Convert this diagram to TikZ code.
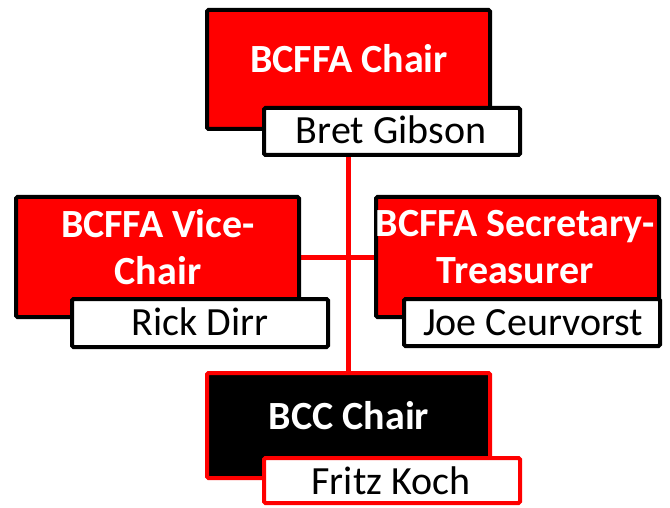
\documentclass[tikz,border=0pt]{standalone}
\usepackage{fontspec}
\setmainfont{Carlito}
\usetikzlibrary{backgrounds}
\begin{document}
\begin{tikzpicture}[x=1bp,y=-1bp,
  boxbase/.style={line width=4bp, rounded corners=1.5bp, inner sep=0pt, outer sep=0pt, anchor=north west},
  rolebox/.style={boxbase, draw=black, fill=red},
  namebox/.style={boxbase, draw=black, fill=white},
  bccbox/.style={boxbase, draw=red, fill=black},
  bccname/.style={boxbase, draw=red, fill=white},
  roletext/.style={text=white, font=\fontsize{40bp}{47bp}\selectfont\bfseries, align=center, inner sep=0pt},
  persontext/.style={text=black, font=\fontsize{40bp}{47bp}\selectfont, inner sep=0pt, anchor=base},
  link/.style={draw=red, line width=5bp}]
\useasboundingbox (0,0) rectangle (670,508);
% boxes
\node[rolebox, minimum width=283bp, minimum height=119bp] (c1) at (207,10) {};
\node[namebox, minimum width=256bp, minimum height=47bp] (c1n) at (264,108) {};
\node[rolebox, minimum width=283bp, minimum height=120bp] (c2) at (16,197) {};
\node[namebox, minimum width=256bp, minimum height=48bp] (c2n) at (72,299) {};
\node[rolebox, minimum width=283bp, minimum height=120bp] (c3) at (376,197) {};
\node[namebox, minimum width=256bp, minimum height=47bp] (c3n) at (404,299) {};
\node[bccbox, minimum width=283bp, minimum height=105bp] (c4) at (207,373) {};
\node[bccname, minimum width=256bp, minimum height=45bp] (c4n) at (264,458) {};
% texts
\node[roletext, anchor=base] (t1) at (349,73) {BCFFA Chair};
\node[persontext] (p1) at (391,144) {Bret Gibson};
\node[roletext, anchor=center] (t2) at (158,247) {BCFFA Vice-\\Chair};
\node[persontext] (p2) at (200,335) {Rick Dirr};
\node[roletext, anchor=center] (t3) at (515,247) {BCFFA Secretary-\\Treasurer};
\node[persontext] (p3) at (533,335) {Joe Ceurvorst};
\node[roletext, anchor=base] (t4) at (349,429) {BCC Chair};
\node[persontext] (p4) at (391,494) {Fritz Koch};
% connectors
\begin{pgfonlayer}{background}
\draw[link] (c1.south) -- (c4.north);
\draw[link] (c2.east) -- (c3.west);
\end{pgfonlayer}
\end{tikzpicture}
\end{document}
